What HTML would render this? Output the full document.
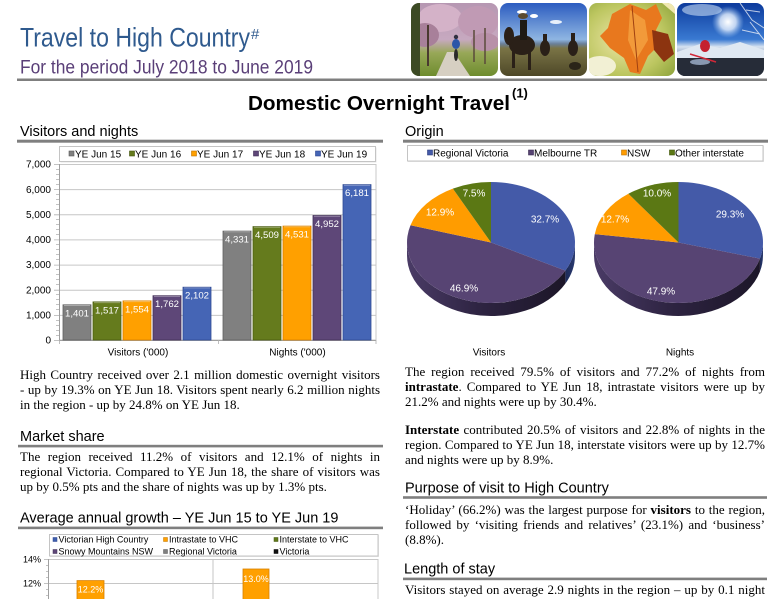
<!DOCTYPE html>
<html><head><meta charset="utf-8">
<style>
html,body{margin:0;padding:0;background:#fff;}
body{width:780px;height:599px;overflow:hidden;position:relative;}
svg{position:absolute;left:0;top:0;}
.p{position:absolute;width:360px;font-family:"Liberation Serif","Times New Roman",serif;font-size:13px;line-height:15px;color:#000;text-align:justify;text-align-last:justify;white-space:normal;}
.p.l{text-align-last:left;}
.p b{font-weight:bold;}
</style></head><body>
<svg width="780" height="599" viewBox="0 0 780 599" xmlns="http://www.w3.org/2000/svg" font-family="Liberation Sans, Arial, sans-serif">
<defs>
 <clipPath id="c1"><rect x="411" y="3" width="87" height="73" rx="8"/></clipPath>
 <clipPath id="c2"><rect x="500" y="3" width="87" height="73" rx="8"/></clipPath>
 <clipPath id="c3"><rect x="589" y="3" width="86" height="73" rx="8"/></clipPath>
 <clipPath id="c4"><rect x="677" y="3" width="87" height="73" rx="8"/></clipPath>
 <linearGradient id="g1" x1="0" y1="0" x2="0" y2="1">
  <stop offset="0" stop-color="#b697b2"/><stop offset="0.5" stop-color="#c7a9c0"/><stop offset="0.68" stop-color="#98a858"/><stop offset="1" stop-color="#6e8c2e"/>
 </linearGradient>
 <linearGradient id="g2" x1="0" y1="0" x2="0" y2="1">
  <stop offset="0" stop-color="#2c5cc0"/><stop offset="0.5" stop-color="#8fb6e2"/><stop offset="0.56" stop-color="#6a7f98"/><stop offset="0.62" stop-color="#7a7446"/><stop offset="1" stop-color="#4e4828"/>
 </linearGradient>
 <radialGradient id="g3" cx="0.4" cy="0.5" r="0.8">
  <stop offset="0" stop-color="#eee6a8"/><stop offset="0.6" stop-color="#bcc660"/><stop offset="1" stop-color="#8aa038"/>
 </radialGradient>
 <linearGradient id="g4" x1="0" y1="0" x2="0" y2="1">
  <stop offset="0" stop-color="#0c3a9c"/><stop offset="0.5" stop-color="#3a7ad2"/><stop offset="0.6" stop-color="#d6e2f0"/><stop offset="0.72" stop-color="#8a9cb8"/><stop offset="1" stop-color="#262c3a"/>
 </linearGradient>
 <radialGradient id="sun" cx="0.5" cy="0.5" r="0.5">
  <stop offset="0" stop-color="#ffffff"/><stop offset="0.5" stop-color="#e8f2ff" stop-opacity="0.8"/><stop offset="1" stop-color="#9cc4f0" stop-opacity="0"/>
 </radialGradient>
 <linearGradient id="side" x1="0" y1="0" x2="1" y2="0">
  <stop offset="0" stop-color="#4a3b66"/><stop offset="0.45" stop-color="#2e2442"/><stop offset="1" stop-color="#1c1628"/>
 </linearGradient>
 <linearGradient id="sideb" x1="0" y1="0" x2="1" y2="0">
  <stop offset="0" stop-color="#1c2a58"/><stop offset="1" stop-color="#2a3a70"/>
 </linearGradient>
</defs>

<!-- Header -->
<text x="20" y="46.7" font-size="27" fill="#2f5a8e" textLength="230" lengthAdjust="spacingAndGlyphs">Travel to High Country</text>
<text x="251" y="39" font-size="15" fill="#2f5a8e">#</text>
<text x="20" y="73.3" font-size="19.5" fill="#5a3f78" textLength="293" lengthAdjust="spacingAndGlyphs">For the period July 2018 to June 2019</text>

<!-- Photos -->
<g clip-path="url(#c1)">
 <rect x="411" y="3" width="87" height="73" fill="url(#g1)"/>
 <ellipse cx="440" cy="18" rx="22" ry="14" fill="#d4b2c8"/>
 <ellipse cx="478" cy="22" rx="20" ry="16" fill="#c09ab4"/>
 <ellipse cx="425" cy="35" rx="14" ry="12" fill="#a8809a"/>
 <ellipse cx="485" cy="42" rx="14" ry="9" fill="#b890a8"/>
 <rect x="411" y="3" width="9" height="73" fill="#3c4a24"/>
 <line x1="428" y1="25" x2="428" y2="66" stroke="#4a3a30" stroke-width="2"/>
 <line x1="474" y1="30" x2="474" y2="62" stroke="#5a4a3a" stroke-width="1.5"/>
 <line x1="485" y1="28" x2="485" y2="64" stroke="#5a4a3a" stroke-width="1.5"/>
 <polygon points="436,76 470,76 454,52 447,52" fill="#d6cfc2"/>
 <ellipse cx="456" cy="44" rx="4" ry="5" fill="#2a56a8"/>
 <circle cx="456" cy="37" r="2.2" fill="#303040"/>
 <ellipse cx="456" cy="55" rx="2" ry="6" fill="#2a2a2a"/>
</g>
<g clip-path="url(#c2)">
 <rect x="500" y="3" width="87" height="73" fill="url(#g2)"/>
 <ellipse cx="522" cy="12" rx="5" ry="2" fill="#ffffff"/>
 <ellipse cx="534" cy="16" rx="4" ry="2" fill="#ffffff"/>
 <ellipse cx="556" cy="22" rx="6" ry="2" fill="#e8f0fa"/>
 <ellipse cx="522" cy="45" rx="13" ry="10" fill="#2a2018"/>
 <rect x="512" y="48" width="3" height="20" fill="#2a2018"/>
 <rect x="528" y="48" width="3" height="22" fill="#2a2018"/>
 <ellipse cx="509" cy="36" rx="5" ry="9" fill="#2a2018"/>
 <rect x="520" y="20" width="7" height="20" fill="#1e1a14"/>
 <ellipse cx="523" cy="16" rx="5" ry="3" fill="#5a4a30"/>
 <ellipse cx="545" cy="48" rx="5" ry="8" fill="#2a2018"/>
 <rect x="543" y="34" width="4" height="10" fill="#2a2018"/>
 <ellipse cx="573" cy="48" rx="5" ry="8" fill="#2a2018"/>
 <rect x="571" y="33" width="4" height="10" fill="#2a2018"/>
 <ellipse cx="575" cy="66" rx="6" ry="4" fill="#2a2418"/>
</g>
<g clip-path="url(#c3)">
 <rect x="589" y="3" width="86" height="73" fill="url(#g3)"/>
 <ellipse cx="600" cy="66" rx="16" ry="10" fill="#f2f0d4"/>
 <polygon points="612,14 630,4 646,10 656,4 662,18 656,30 660,44 648,56 640,74 630,72 624,58 610,48 600,36 608,28" fill="#e8781e"/>
 <polygon points="630,10 645,20 648,40 636,60 628,40" fill="#f29a3a"/>
 <polygon points="652,30 668,34 674,54 664,62 654,50" fill="#8c3410"/>
 <line x1="632" y1="6" x2="638" y2="72" stroke="#a04010" stroke-width="1"/>
 <polygon points="662,3 675,3 675,14" fill="#f0e8b0"/>
</g>
<g clip-path="url(#c4)">
 <rect x="677" y="3" width="87" height="73" fill="url(#g4)"/>
 <ellipse cx="702" cy="10" rx="20" ry="6" fill="#c8dcf4" opacity="0.6"/>
 <circle cx="728" cy="22" r="16" fill="url(#sun)"/>
 <path d="M740,3 L752,20 L764,28 M746,10 L760,12 M750,22 L764,40 M742,30 L760,34" stroke="#e8eef6" stroke-width="1" fill="none" opacity="0.8"/>
 <polygon points="677,52 700,44 720,48 740,42 764,50 764,60 677,60" fill="#dfe8f2"/>
 <rect x="677" y="58" width="87" height="18" fill="#262c38"/>
 <ellipse cx="700" cy="62" rx="10" ry="3" fill="#8898b0"/>
 <ellipse cx="705" cy="46" rx="5" ry="6" fill="#c42030"/>
 <line x1="690" y1="54" x2="716" y2="62" stroke="#d02838" stroke-width="1.5"/>
</g>

<!-- header rule -->
<rect x="17" y="78.5" width="750" height="2.5" fill="#7f7f7f"/>

<text x="248" y="110" font-size="20.5" font-weight="bold" fill="#000" textLength="262" lengthAdjust="spacingAndGlyphs">Domestic Overnight Travel</text>
<text x="512" y="97.5" font-size="13" font-weight="bold" fill="#000">(1)</text>

<!-- Section headings -->
<text x="20" y="136" font-size="14.5" fill="#000">Visitors and nights</text>
<rect x="17" y="139.7" width="366" height="3" fill="#7f7f7f"/>
<text x="405" y="136" font-size="14.5" fill="#000">Origin</text>
<rect x="403" y="139.7" width="365" height="3" fill="#7f7f7f"/>

<text x="20" y="441" font-size="14.5" fill="#000">Market share</text>
<rect x="18" y="444.8" width="365" height="2.6" fill="#7f7f7f"/>
<text x="20" y="522.7" font-size="14.5" fill="#000">Average annual growth – YE Jun 15 to YE Jun 19</text>
<rect x="18" y="526.6" width="365" height="2.6" fill="#7f7f7f"/>
<text x="405" y="492.7" font-size="14.5" fill="#000">Purpose of visit to High Country</text>
<rect x="403" y="496.2" width="364" height="2.6" fill="#7f7f7f"/>
<text x="404" y="573.3" font-size="14.5" fill="#000">Length of stay</text>
<rect x="403" y="577.6" width="364" height="2.6" fill="#7f7f7f"/>

<!-- Bar chart legend -->
<rect x="60.5" y="147.5" width="316" height="15" fill="#e6e6e6"/>
<rect x="59.5" y="146.5" width="316" height="15" fill="#fff" stroke="#c4c4c4"/>
<g font-size="10" fill="#000">
 <rect x="69" y="151" width="5" height="5" fill="#808080" stroke="#5a5a5a" stroke-width="0.6"/><text x="75" y="157.3">YE Jun 15</text>
 <rect x="129.5" y="151" width="5" height="5" fill="#657b1d" stroke="#44540f" stroke-width="0.6"/><text x="135" y="157.3">YE Jun 16</text>
 <rect x="191.5" y="151" width="5" height="5" fill="#ffa000" stroke="#c07400" stroke-width="0.6"/><text x="197" y="157.3">YE Jun 17</text>
 <rect x="253.5" y="151" width="5" height="5" fill="#5e4778" stroke="#3e2c54" stroke-width="0.6"/><text x="259" y="157.3">YE Jun 18</text>
 <rect x="315.5" y="151" width="5" height="5" fill="#4565b5" stroke="#2c4490" stroke-width="0.6"/><text x="321" y="157.3">YE Jun 19</text>
</g>

<!-- Bar chart plot -->
<rect x="59.5" y="164.5" width="316.5" height="175.5" fill="#fff" stroke="#c8c8c8"/>
<g stroke="#c6c6c6" stroke-width="1">
 <line x1="59" y1="189.6" x2="376" y2="189.6"/>
 <line x1="59" y1="214.8" x2="376" y2="214.8"/>
 <line x1="59" y1="239.9" x2="376" y2="239.9"/>
 <line x1="59" y1="265.1" x2="376" y2="265.1"/>
 <line x1="59" y1="290.2" x2="376" y2="290.2"/>
 <line x1="59" y1="315.4" x2="376" y2="315.4"/>
</g>
<line x1="59.5" y1="164" x2="59.5" y2="340.5" stroke="#a0a0a0"/>
<line x1="59" y1="340.5" x2="376" y2="340.5" stroke="#a0a0a0"/>
<g stroke="#b0b0b0" stroke-width="0.8">
 <path d="M56,169.5h3M56,174.5h3M56,179.5h3M56,184.5h3M56,194.5h3M56,199.5h3M56,204.5h3M56,209.5h3M56,219.5h3M56,224.5h3M56,229.5h3M56,234.5h3M56,244.5h3M56,249.5h3M56,254.5h3M56,259.5h3M56,269.5h3M56,274.5h3M56,279.5h3M56,284.5h3M56,294.5h3M56,299.5h3M56,304.5h3M56,309.5h3M56,320.5h3M56,325.5h3M56,330.5h3M56,335.5h3"/>
 <path d="M54,164.5h5M54,189.6h5M54,214.8h5M54,239.9h5M54,265.1h5M54,290.2h5M54,315.4h5M54,340.5h5M218.5,340h0v4M59.5,340v4M376,340v4"/>
</g>
<g font-size="10" fill="#000" text-anchor="end">
 <text x="51" y="167.6">7,000</text>
 <text x="51" y="192.8">6,000</text>
 <text x="51" y="217.9">5,000</text>
 <text x="51" y="243.1">4,000</text>
 <text x="51" y="268.2">3,000</text>
 <text x="51" y="293.4">2,000</text>
 <text x="51" y="318.5">1,000</text>
 <text x="51" y="343.7">0</text>
</g>
<!-- bars -->
<g stroke-width="0.8">
 <rect x="63" y="304.8" width="28" height="35.2" fill="#808080" stroke="#606060"/>
 <rect x="93" y="301.9" width="28" height="38.1" fill="#657b1d" stroke="#4a5c10"/>
 <rect x="123" y="300.9" width="28" height="39.1" fill="#ffa000" stroke="#d88000"/>
 <rect x="153" y="295.7" width="28" height="44.3" fill="#5e4778" stroke="#433058"/>
 <rect x="183" y="287.2" width="28" height="52.8" fill="#4565b5" stroke="#304c94"/>
 <rect x="223" y="231.1" width="28" height="108.9" fill="#808080" stroke="#606060"/>
 <rect x="253" y="226.6" width="28" height="113.4" fill="#657b1d" stroke="#4a5c10"/>
 <rect x="283" y="226.1" width="28" height="113.9" fill="#ffa000" stroke="#d88000"/>
 <rect x="313" y="215.5" width="28" height="124.5" fill="#5e4778" stroke="#433058"/>
 <rect x="343" y="184.6" width="28" height="155.4" fill="#4565b5" stroke="#304c94"/>
</g>
<g stroke="#ffffff" stroke-opacity="0.35" stroke-width="1">
 <path d="M64,305.5h26M94,302.6h26M124,301.6h26M154,296.4h26M184,287.9h26M224,231.8h26M254,227.3h26M284,226.8h26M314,216.2h26M344,185.3h26"/>
</g>
<g font-size="9.6" fill="#fff" text-anchor="middle">
 <text x="77" y="316.3">1,401</text>
 <text x="107" y="313.4">1,517</text>
 <text x="137" y="312.4">1,554</text>
 <text x="167" y="307.2">1,762</text>
 <text x="197" y="298.7">2,102</text>
 <text x="237" y="242.6">4,331</text>
 <text x="267" y="238.1">4,509</text>
 <text x="297" y="237.6">4,531</text>
 <text x="327" y="227">4,952</text>
 <text x="357" y="196.1">6,181</text>
</g>
<g font-size="10" fill="#000" text-anchor="middle">
 <text x="138" y="355.5">Visitors ('000)</text>
 <text x="297.5" y="355.5">Nights ('000)</text>
</g>

<!-- Pie legend -->
<rect x="408" y="146" width="356" height="16" fill="#e6e6e6"/>
<rect x="407.5" y="145.5" width="355.5" height="15.5" fill="#fff" stroke="#c4c4c4"/>
<g font-size="10" fill="#000">
 <rect x="427.5" y="150" width="5" height="5" fill="#445aa8" stroke="#2c3c80" stroke-width="0.6"/><text x="433" y="156.3">Regional Victoria</text>
 <rect x="528.5" y="150" width="5" height="5" fill="#574473" stroke="#3a2c52" stroke-width="0.6"/><text x="534" y="156.3">Melbourne TR</text>
 <rect x="621.5" y="150" width="5" height="5" fill="#ff9c00" stroke="#c07400" stroke-width="0.6"/><text x="627" y="156.3">NSW</text>
 <rect x="669.5" y="150" width="5" height="5" fill="#5b7814" stroke="#3e5408" stroke-width="0.6"/><text x="675" y="156.3">Other interstate</text>
</g>

<!-- Visitors pie -->
<path d="M575,242.5 A84,60.5 0 0 1 565.36,270.64 L565.36,283.64 A84,60.5 0 0 0 575,255.5 Z" fill="url(#sideb)"/>
<path d="M565.36,270.64 A84,60.5 0 0 1 407,242.5 L407,255.5 A84,60.5 0 0 0 565.36,283.64 Z" fill="url(#side)"/>
<path d="M491,242.5 L491,182 A84,60.5 0 0 1 565.36,270.64 Z" fill="#445aa8"/>
<path d="M491,242.5 L565.36,270.64 A84,60.5 0 0 1 410.49,225.26 Z" fill="#574473"/>
<path d="M491,242.5 L410.49,225.26 A84,60.5 0 0 1 452.86,188.59 Z" fill="#ff9c00"/>
<path d="M491,242.5 L452.86,188.59 A84,60.5 0 0 1 491,182 Z" fill="#5b7814"/>
<!-- Nights pie -->
<path d="M763,242.5 A84.5,60.5 0 0 1 759.93,258.65 L759.93,271.65 A84.5,60.5 0 0 0 763,255.5 Z" fill="url(#sideb)"/>
<path d="M759.93,258.65 A84.5,60.5 0 0 1 594,242.5 L594,255.5 A84.5,60.5 0 0 0 759.93,271.65 Z" fill="url(#side)"/>
<path d="M678.5,242.5 L678.5,182 A84.5,60.5 0 0 1 759.93,258.65 Z" fill="#445aa8"/>
<path d="M678.5,242.5 L759.93,258.65 A84.5,60.5 0 0 1 594.80,234.16 Z" fill="#574473"/>
<path d="M678.5,242.5 L594.80,234.16 A84.5,60.5 0 0 1 628.40,193.78 Z" fill="#ff9c00"/>
<path d="M678.5,242.5 L628.40,193.78 A84.5,60.5 0 0 1 678.5,182 Z" fill="#5b7814"/>
<g font-size="10" fill="#fff" text-anchor="middle">
 <text x="545" y="222.6">32.7%</text>
 <text x="464" y="291.6">46.9%</text>
 <text x="440" y="215.6">12.9%</text>
 <text x="474" y="196.6">7.5%</text>
 <text x="730" y="217.6">29.3%</text>
 <text x="661" y="294.6">47.9%</text>
 <text x="615" y="222.6">12.7%</text>
 <text x="657" y="196.6">10.0%</text>
</g>
<g font-size="10" fill="#000" text-anchor="middle">
 <text x="489" y="355.5">Visitors</text>
 <text x="680" y="355.5">Nights</text>
</g>

<!-- Bottom chart -->
<rect x="50" y="535" width="329" height="22" fill="#e6e6e6"/>
<rect x="49.5" y="534.5" width="328.5" height="21.5" fill="#fff" stroke="#c4c4c4"/>
<g font-size="9" fill="#000">
 <rect x="53" y="537.5" width="4" height="4" fill="#3f5fae" stroke="#2c4490" stroke-width="0.5"/><text x="58.5" y="542.3">Victorian High Country</text>
 <rect x="163.5" y="537.5" width="4" height="4" fill="#ffa000" stroke="#c07400" stroke-width="0.5"/><text x="169" y="542.3">Intrastate to VHC</text>
 <rect x="274" y="537.5" width="4" height="4" fill="#5f7a1a" stroke="#44540f" stroke-width="0.5"/><text x="279.5" y="542.3">Interstate to VHC</text>
 <rect x="53" y="549.5" width="4" height="4" fill="#5e4778" stroke="#3e2c54" stroke-width="0.5"/><text x="58.5" y="554.3">Snowy Mountains NSW</text>
 <rect x="163.5" y="549.5" width="4" height="4" fill="#808080" stroke="#5a5a5a" stroke-width="0.5"/><text x="169" y="554.3">Regional Victoria</text>
 <rect x="274" y="549.5" width="4" height="4" fill="#111" stroke="#000" stroke-width="0.5"/><text x="279.5" y="554.3">Victoria</text>
</g>
<rect x="48.5" y="559.5" width="329.5" height="45" fill="#fff" stroke="#c8c8c8"/>
<line x1="48" y1="583.5" x2="378" y2="583.5" stroke="#c6c6c6"/>
<line x1="213" y1="559" x2="213" y2="599" stroke="#c6c6c6"/>
<line x1="48.5" y1="559" x2="48.5" y2="599" stroke="#a0a0a0"/>
<g stroke="#b0b0b0" stroke-width="0.8"><path d="M44,559.5h4M44,583.5h4M46,565.5h2M46,571.5h2M46,577.5h2M46,589.5h2M46,595.5h2"/></g>
<g font-size="9" fill="#000" text-anchor="end">
 <text x="41" y="562.5">14%</text>
 <text x="41" y="586.5">12%</text>
</g>
<rect x="77" y="580.6" width="27" height="20" fill="#ffa000" stroke="#d88000" stroke-width="0.8"/>
<rect x="243" y="569" width="26" height="32" fill="#ffa000" stroke="#d88000" stroke-width="0.8"/>
<g font-size="9" fill="#fff" text-anchor="middle">
 <text x="90.5" y="592.3">12.2%</text>
 <text x="256" y="582">13.0%</text>
</g>
</svg>

<!-- Left column paragraphs -->
<div class="p" style="left:20px;top:367px;">High Country received over 2.1 million domestic overnight visitors</div>
<div class="p" style="left:20px;top:382px;">- up by 19.3% on YE Jun 18. Visitors spent nearly 6.2 million nights</div>
<div class="p l" style="left:20px;top:397px;">in the region - up by 24.8% on YE Jun 18.</div>

<div class="p" style="left:20px;top:449px;">The region received 11.2% of visitors and 12.1% of nights in</div>
<div class="p" style="left:20px;top:464px;">regional Victoria. Compared to YE Jun 18, the share of visitors was</div>
<div class="p l" style="left:20px;top:479px;">up by 0.5% pts and the share of nights was up by 1.3% pts.</div>

<!-- Right column paragraphs -->
<div class="p" style="left:405px;top:364px;">The region received 79.5% of visitors and 77.2% of nights from</div>
<div class="p" style="left:405px;top:379px;"><b>intrastate</b>. Compared to YE Jun 18, intrastate visitors were up by</div>
<div class="p l" style="left:405px;top:394px;">21.2% and nights were up by 30.4%.</div>

<div class="p" style="left:405px;top:421.5px;"><b>Interstate</b> contributed 20.5% of visitors and 22.8% of nights in the</div>
<div class="p" style="left:405px;top:436.5px;">region. Compared to YE Jun 18, interstate visitors were up by 12.7%</div>
<div class="p l" style="left:405px;top:451.5px;">and nights were up by 8.9%.</div>

<div class="p" style="left:405px;top:501.5px;">‘Holiday’ (66.2%) was the largest purpose for <b>visitors</b> to the region,</div>
<div class="p" style="left:405px;top:516.5px;">followed by ‘visiting friends and relatives’ (23.1%) and ‘business’</div>
<div class="p l" style="left:405px;top:531.5px;">(8.8%).</div>

<div class="p" style="left:405px;top:581.5px;">Visitors stayed on average 2.9 nights in the region – up by 0.1 night</div>
</body></html>
